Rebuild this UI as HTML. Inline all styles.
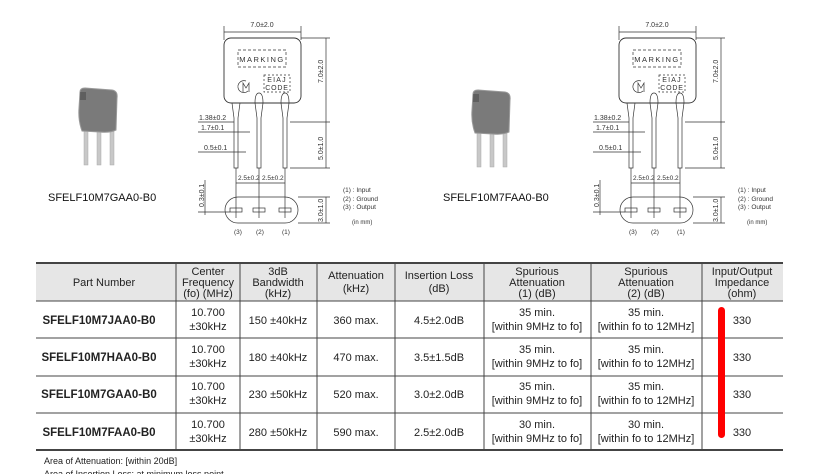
<!DOCTYPE html>
<html><head><meta charset="utf-8"><style>
html,body{margin:0;padding:0;background:#fff;}
body{width:816px;height:474px;position:relative;overflow:hidden;font-family:"Liberation Sans",Arial,sans-serif;}
svg{position:absolute;left:0;top:0;}
</style></head><body>
<svg width="816" height="474" viewBox="0 0 816 474" font-family="Liberation Sans, Arial, sans-serif">
<defs>
<g id="photo">
 <rect x="84" y="125" width="4" height="40" fill="#c8c8c8" stroke="#aaa" stroke-width="0.5"/>
 <rect x="97" y="125" width="4" height="40" fill="#c8c8c8" stroke="#aaa" stroke-width="0.5"/>
 <rect x="110" y="125" width="4" height="40" fill="#c8c8c8" stroke="#aaa" stroke-width="0.5"/>
 <path d="M80 92 Q80 88 85 88 L112 90 Q118 91 117 98 L116 130 Q110 133 100 132 L82 131 Q78 120 79 108 Z" fill="#7a7a7a" stroke="#999" stroke-width="1"/>
 <rect x="80" y="92" width="6" height="8" fill="#444" opacity="0.5"/>
</g>
<g id="draw" fill="none" stroke="#333" stroke-width="0.7">
 <line x1="224" y1="32" x2="301" y2="32"/>
 <line x1="224" y1="26" x2="224" y2="40"/><line x1="301" y1="26" x2="301" y2="40"/>
 <rect x="224" y="38" width="77" height="65" rx="7" stroke-width="0.9"/>
 <rect x="238" y="50" width="48" height="17" stroke-dasharray="3,2"/>
 <rect x="264" y="75" width="26" height="17" stroke-dasharray="2,2"/>
 <path d="M246 81 A6 6 0 1 0 248 91" />
 <path d="M243 92 L243 83 L246 88 L249 83 L249 92"/>
 <line x1="301" y1="38" x2="330" y2="38"/>
 <line x1="326" y1="38" x2="326" y2="168"/>
 <line x1="290" y1="122" x2="330" y2="122"/>
 <line x1="290" y1="168" x2="330" y2="168"/>
 <path d="M232 103 L234 118 L234 168 L238 168 L238 118 L240 103"/>
 <path d="M255 103 Q255 93 259 93 Q263 93 263 103 L261 118 L261 168 L257 168 L257 118 Z"/>
 <path d="M281 103 Q281 93 285 93 Q289 93 289 103 L287 118 L287 168 L283 168 L283 118 Z"/>
 <line x1="198" y1="122" x2="234" y2="122"/>
 <line x1="198" y1="132" x2="250" y2="132"/>
 <line x1="198" y1="152" x2="246" y2="152"/>
 <line x1="236" y1="168" x2="236" y2="218"/><line x1="259" y1="168" x2="259" y2="218"/><line x1="285" y1="168" x2="285" y2="218"/>
 <line x1="236" y1="183" x2="285" y2="183"/>
 <rect x="225" y="197" width="73" height="26" rx="13"/>
 <line x1="298" y1="197" x2="330" y2="197"/><line x1="298" y1="223" x2="330" y2="223"/>
 <line x1="326" y1="197" x2="326" y2="223"/>
 <line x1="198" y1="212" x2="230" y2="212"/>
 <line x1="205" y1="180" x2="205" y2="215"/>
 <rect x="230" y="208" width="12" height="4"/><rect x="253" y="208" width="12" height="4"/><rect x="279" y="208" width="12" height="4"/>
 <g fill="#333" stroke="none" font-size="7">
  <text x="262" y="27" text-anchor="middle">7.0±2.0</text>
  <text x="262" y="62" text-anchor="middle" font-size="7.5" letter-spacing="1.5">MARKING</text>
  <text x="277" y="82" text-anchor="middle" letter-spacing="1.2">EIAJ</text>
  <text x="277" y="90" text-anchor="middle" letter-spacing="0.8">CODE</text>
  <text transform="translate(323,83) rotate(-90)">7.0±2.0</text>
  <text transform="translate(323,160) rotate(-90)">5.0±1.0</text>
  <text transform="translate(323,222) rotate(-90)">3.0±1.0</text>
  <text transform="translate(204,207) rotate(-90)">0.3±0.1</text>
  <text x="199" y="120">1.38±0.2</text>
  <text x="201" y="130">1.7±0.1</text>
  <text x="204" y="150">0.5±0.1</text>
  <text x="238" y="180" font-size="6.5">2.5±0.2</text><text x="262" y="180" font-size="6.5">2.5±0.2</text>
  <text x="234" y="234" font-size="6.5">(3)</text><text x="256" y="234" font-size="6.5">(2)</text><text x="282" y="234" font-size="6.5">(1)</text>
  <text x="343" y="192" font-size="6.5">(1) : Input</text>
  <text x="343" y="201" font-size="6.5">(2) : Ground</text>
  <text x="343" y="209" font-size="6.5">(3) : Output</text>
  <text x="352" y="224" font-size="6">(in mm)</text>
 </g>
</g>
</defs>
<use href="#photo"/>
<use href="#photo" transform="translate(393,2)"/>
<use href="#draw"/>
<use href="#draw" transform="translate(395,0)"/>
<text x="48" y="201" font-size="11" fill="#111">SFELF10M7GAA0-B0</text>
<text x="443" y="201" font-size="11" fill="#111">SFELF10M7FAA0-B0</text>

<rect x="36" y="263" width="747" height="38" fill="#e6e6e6"/>
<g stroke="#444" stroke-width="1">
 <line x1="36" y1="263" x2="783" y2="263" stroke-width="2"/>
 <line x1="36" y1="301" x2="783" y2="301"/>
 <line x1="36" y1="338" x2="783" y2="338"/>
 <line x1="36" y1="376" x2="783" y2="376"/>
 <line x1="36" y1="413" x2="783" y2="413"/>
 <line x1="36" y1="450" x2="783" y2="450" stroke-width="2"/>
 <line x1="176" y1="263" x2="176" y2="450"/>
 <line x1="240" y1="263" x2="240" y2="450"/>
 <line x1="317" y1="263" x2="317" y2="450"/>
 <line x1="395" y1="263" x2="395" y2="450"/>
 <line x1="484" y1="263" x2="484" y2="450"/>
 <line x1="591" y1="263" x2="591" y2="450"/>
 <line x1="702" y1="263" x2="702" y2="450"/>
</g>
<g font-size="11" fill="#222" text-anchor="middle">
 <text x="104" y="286">Part Number</text>
 <text x="208" y="275">Center</text><text x="208" y="286">Frequency</text><text x="208" y="297">(fo) (MHz)</text>
 <text x="278" y="275">3dB</text><text x="278" y="286">Bandwidth</text><text x="278" y="297">(kHz)</text>
 <text x="356" y="279">Attenuation</text><text x="356" y="292">(kHz)</text>
 <text x="439" y="279">Insertion Loss</text><text x="439" y="292">(dB)</text>
 <text x="537" y="275">Spurious</text><text x="537" y="286">Attenuation</text><text x="537" y="297">(1) (dB)</text>
 <text x="646" y="275">Spurious</text><text x="646" y="286">Attenuation</text><text x="646" y="297">(2) (dB)</text>
 <text x="742" y="275">Input/Output</text><text x="742" y="286">Impedance</text><text x="742" y="297">(ohm)</text>
</g>
<g font-size="11" fill="#222" text-anchor="middle">
 <g>
  <text x="99" y="324" font-weight="bold" font-size="11.5">SFELF10M7JAA0-B0</text>
  <text x="208" y="316">10.700</text><text x="208" y="330">±30kHz</text>
  <text x="278" y="324">150 ±40kHz</text><text x="356" y="324">360 max.</text><text x="439" y="324">4.5±2.0dB</text>
  <text x="537" y="316">35 min.</text><text x="537" y="330">[within 9MHz to fo]</text>
  <text x="646" y="316">35 min.</text><text x="646" y="330">[within fo to 12MHz]</text>
  <text x="742" y="324">330</text>
 </g>
 <g transform="translate(0,37)">
  <text x="99" y="324" font-weight="bold" font-size="11.5">SFELF10M7HAA0-B0</text>
  <text x="208" y="316">10.700</text><text x="208" y="330">±30kHz</text>
  <text x="278" y="324">180 ±40kHz</text><text x="356" y="324">470 max.</text><text x="439" y="324">3.5±1.5dB</text>
  <text x="537" y="316">35 min.</text><text x="537" y="330">[within 9MHz to fo]</text>
  <text x="646" y="316">35 min.</text><text x="646" y="330">[within fo to 12MHz]</text>
  <text x="742" y="324">330</text>
 </g>
 <g transform="translate(0,74)">
  <text x="99" y="324" font-weight="bold" font-size="11.5">SFELF10M7GAA0-B0</text>
  <text x="208" y="316">10.700</text><text x="208" y="330">±30kHz</text>
  <text x="278" y="324">230 ±50kHz</text><text x="356" y="324">520 max.</text><text x="439" y="324">3.0±2.0dB</text>
  <text x="537" y="316">35 min.</text><text x="537" y="330">[within 9MHz to fo]</text>
  <text x="646" y="316">35 min.</text><text x="646" y="330">[within fo to 12MHz]</text>
  <text x="742" y="324">330</text>
 </g>
 <g transform="translate(0,112)">
  <text x="99" y="324" font-weight="bold" font-size="11.5">SFELF10M7FAA0-B0</text>
  <text x="208" y="316">10.700</text><text x="208" y="330">±30kHz</text>
  <text x="278" y="324">280 ±50kHz</text><text x="356" y="324">590 max.</text><text x="439" y="324">2.5±2.0dB</text>
  <text x="537" y="316">30 min.</text><text x="537" y="330">[within 9MHz to fo]</text>
  <text x="646" y="316">30 min.</text><text x="646" y="330">[within fo to 12MHz]</text>
  <text x="742" y="324">330</text>
 </g>
</g>
<rect x="718" y="307" width="7" height="131" rx="3.5" fill="#f00"/>
<text x="44" y="464" font-size="9" fill="#222">Area of Attenuation: [within 20dB]</text>
<text x="44" y="477" font-size="9" fill="#222">Area of Insertion Loss: at minimum loss point</text>
</svg>
</body></html>
